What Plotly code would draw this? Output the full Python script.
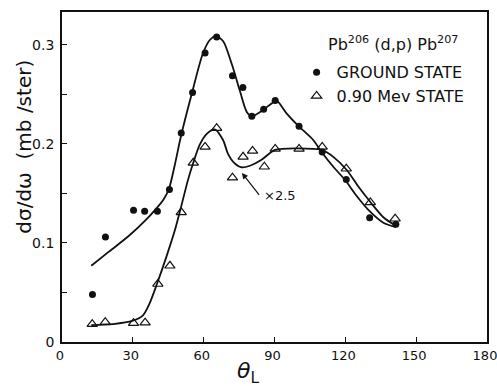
import plotly.graph_objects as go

# Measured points: ground state
gs_theta = [12.9, 18.4, 30.3, 35.0, 40.4, 45.5, 50.5, 55.3, 60.6, 65.5, 72.2, 76.6, 80.4, 85.4, 90.3, 100.4, 110.2, 120.4, 130.3, 141.4]
gs_sigma = [0.048, 0.106, 0.133, 0.132, 0.132, 0.154, 0.211, 0.252, 0.292, 0.308, 0.269, 0.257, 0.228, 0.235, 0.244, 0.218, 0.192, 0.164, 0.1256, 0.119]

# Measured points: 0.90 MeV state (x2.5)
ex_theta = [12.8, 18.3, 30.3, 35.2, 40.6, 45.7, 50.5, 55.6, 60.6, 65.5, 72.2, 76.7, 80.7, 85.7, 90.3, 100.4, 110.2, 120.4, 130.6, 141.1]
ex_sigma = [0.018, 0.020, 0.019, 0.0195, 0.0586, 0.077, 0.131, 0.181, 0.197, 0.216, 0.166, 0.187, 0.193, 0.177, 0.195, 0.195, 0.197, 0.175, 0.141, 0.1245]

# Smooth curves drawn through the data
gs_curve_theta = [12.4, 20, 28, 35, 40, 43, 45.2, 47.7, 50.3, 55.1, 59.7, 62.6, 65.1, 68.2, 71.8, 75.3, 78.2, 80.3, 84.5, 88.8, 90.8, 95.1, 100, 106.4, 110, 114.9, 119.9, 124.8, 130.5, 136.1, 141.5]
gs_curve_sigma = [0.077, 0.0915, 0.1065, 0.122, 0.135, 0.144, 0.154, 0.178, 0.207, 0.252, 0.2916, 0.305, 0.309, 0.304, 0.2815, 0.254, 0.2326, 0.228, 0.2333, 0.241, 0.244, 0.231, 0.2185, 0.204, 0.1916, 0.177, 0.1636, 0.1475, 0.1316, 0.1205, 0.116]

ex_curve_theta = [12.4, 21.6, 30, 34.3, 37.1, 40.2, 44.2, 47.7, 50.6, 53.4, 55.6, 58.3, 61.2, 64.7, 68.2, 70.3, 72.5, 76, 79.6, 84.5, 90.2, 100, 110, 114.9, 120.6, 125.5, 130.5, 136.1, 141]
ex_curve_sigma = [0.017, 0.018, 0.0215, 0.027, 0.039, 0.0586, 0.086, 0.112, 0.138, 0.164, 0.181, 0.199, 0.210, 0.2148, 0.204, 0.19, 0.182, 0.1765, 0.178, 0.184, 0.194, 0.1956, 0.194, 0.187, 0.1737, 0.157, 0.1417, 0.126, 0.118]

x_ticks = [0, 30, 60, 90, 120, 150, 180]
y_ticks = [0, 0.1, 0.2, 0.3]
y_ticklabels = ["0", "0.1", "0.2", "0.3"]
y_minor_ticks = [0.05, 0.15, 0.25]

FONT = "DejaVu Sans"
INK = "#111111"

fig = go.Figure()
fig.add_trace(go.Scatter(x=gs_curve_theta, y=gs_curve_sigma, mode="lines",
                         line=dict(color=INK, width=1.8, shape="spline", smoothing=0.8),
                         showlegend=False, hoverinfo="skip"))
fig.add_trace(go.Scatter(x=ex_curve_theta, y=ex_curve_sigma, mode="lines",
                         line=dict(color=INK, width=1.8, shape="spline", smoothing=0.8),
                         showlegend=False, hoverinfo="skip"))
fig.add_trace(go.Scatter(x=gs_theta, y=gs_sigma, mode="markers", name="GROUND STATE",
                         marker=dict(symbol="circle", size=7, color=INK)))
fig.add_trace(go.Scatter(x=ex_theta, y=ex_sigma, mode="markers", name="0.90 Mev STATE",
                         marker=dict(symbol="triangle-up-open", size=9, color=INK,
                                     line=dict(width=1.2, color=INK))))

fig.update_layout(
    width=497, height=386,
    margin=dict(l=62, r=10, t=12, b=44, autoexpand=False),
    paper_bgcolor="white", plot_bgcolor="white",
    font=dict(family=FONT, color=INK, size=13),
    legend=dict(x=0.552, y=0.869, xanchor="left", yanchor="top",
                bgcolor="rgba(0,0,0,0)", font=dict(size=16, family=FONT),
                tracegroupgap=0),
    xaxis=dict(range=[0, 180], tickvals=x_ticks, ticktext=[str(v) for v in x_ticks],
               ticks="inside", ticklen=5, tickcolor=INK, tickwidth=1.2,
               showline=True, linecolor=INK, linewidth=1.8, mirror=True,
               showgrid=False, zeroline=False, tickfont=dict(size=13),
               ticklabelshift=-2, ticklabeloverflow="allow", automargin=False),
    yaxis=dict(range=[0, 0.3333], tickvals=y_ticks, ticktext=y_ticklabels,
               ticks="inside", ticklen=5, tickcolor=INK, tickwidth=1.2,
               minor=dict(tickvals=y_minor_ticks, ticks="inside", ticklen=5,
                          tickcolor=INK, tickwidth=1.2, showgrid=False),
               showline=True, linecolor=INK, linewidth=1.8, mirror=True,
               showgrid=False, zeroline=False, tickfont=dict(size=14),
               ticklabelstandoff=3, automargin=False),
)

fig.add_annotation(xref="paper", yref="paper", x=0.779, y=0.904, xanchor="center", yanchor="middle",
                   text="Pb<sup>206</sup> (d,p) Pb<sup>207</sup>", showarrow=False,
                   font=dict(size=16, family=FONT, color=INK))
fig.add_annotation(xref="paper", yref="paper", x=-0.09, y=0.591, xanchor="center", yanchor="middle",
                   text="dσ/dω  (mb /ster)", textangle=-90, showarrow=False,
                   font=dict(size=20, family=FONT, color=INK))
fig.add_annotation(xref="paper", yref="paper", x=0.437, y=-0.091, xanchor="center", yanchor="middle",
                   text="<i>θ</i><sub>L</sub>", showarrow=False,
                   font=dict(size=22, family=FONT, color=INK))
fig.add_annotation(xref="x", yref="y", x=92.5, y=0.1475, text="×2.5", showarrow=False,
                   font=dict(size=13, family=FONT, color=INK))
fig.add_annotation(xref="x", yref="y", x=76.2, y=0.1707, axref="x", ayref="y",
                   ax=84.0, ay=0.147, text="", showarrow=True,
                   arrowhead=2, arrowsize=1, arrowwidth=1.2, arrowcolor=INK)

# remove the page body's default 8px margin so the 497x386 figure fills the window
fig.write_html("out.html", config={"displayModeBar": False},
               post_script="document.body.style.margin='0';")
